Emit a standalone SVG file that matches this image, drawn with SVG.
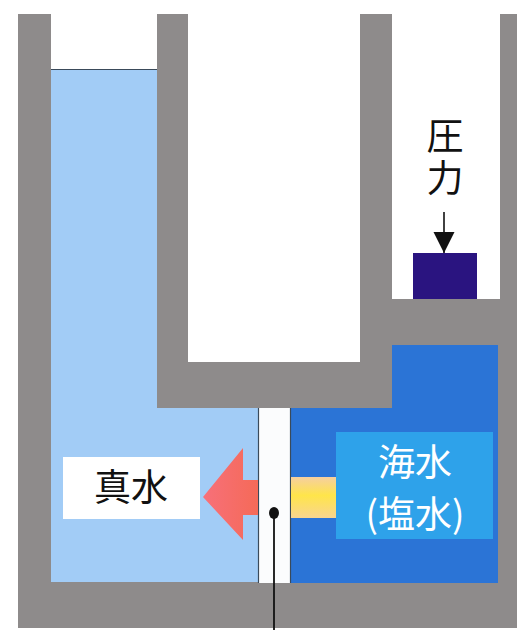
<svg xmlns="http://www.w3.org/2000/svg" width="522" height="630" viewBox="0 0 522 630">
  <defs>
    <style>
      .wall { fill: #8e8b8b; }
      .open { fill: #ffffff; }
      .fresh { fill: #a2ccf6; }
      .sea { fill: #2b74d6; }
      .edge { stroke: #3a4a5a; stroke-width: 1.2; fill: none; }
      .jp { font-family: "Noto Sans CJK JP", "Noto Sans CJK SC", sans-serif; font-size: 37px; }
      .vertical { writing-mode: vertical-rl; letter-spacing: 5px; }
    </style>
    <linearGradient id="flowRed" x1="0" y1="0" x2="1" y2="0">
      <stop offset="0" stop-color="#f7707a"/>
      <stop offset="1" stop-color="#f56a58"/>
    </linearGradient>
    <linearGradient id="flowYellow" x1="0" y1="0" x2="0" y2="1">
      <stop offset="0" stop-color="#f6cfa0"/>
      <stop offset="0.45" stop-color="#ffe54a"/>
      <stop offset="1" stop-color="#f8d590"/>
    </linearGradient>
    <marker id="head" markerWidth="22" markerHeight="22" refX="21" refY="11" orient="auto" markerUnits="userSpaceOnUse">
      <path d="M0,0.5 L21,11 L0,21.5 Z" fill="#111"/>
    </marker>
  </defs>

  <!-- vessel body -->
  <g id="vessel">
    <rect class="wall" x="18" y="14" width="499" height="614"/>
    <!-- open shafts -->
    <rect class="open" x="51" y="14" width="106" height="56"/>
    <rect class="open" x="188" y="14" width="172" height="348"/>
    <rect class="open" x="392" y="14" width="108" height="285"/>
  </g>

  <!-- fresh water side -->
  <g id="fresh-water">
    <path class="fresh" d="M51,70 H157 V408 H258 V582 H51 Z"/>
    <line class="edge" x1="51" y1="69.5" x2="157" y2="69.5"/>
  </g>

  <!-- sea water side -->
  <g id="sea-water">
    <path class="sea" d="M392,345 H498 V583 H291 V408 H392 Z"/>
  </g>

  <!-- semi-permeable membrane -->
  <g id="membrane">
    <rect x="258" y="408" width="33" height="175" fill="#fbfcfd"/>
    <line class="edge" x1="258.5" y1="408" x2="258.5" y2="583"/>
    <line class="edge" x1="290.5" y1="408" x2="290.5" y2="583"/>
  </g>

  <!-- piston -->
  <g id="piston">
    <rect x="413" y="253" width="64" height="46" fill="#2a1480"/>
  </g>

  <!-- pressure label, set vertically -->
  <g id="pressure-label">
    <text class="jp vertical" x="445" y="117" fill="#111">圧力</text>
  </g>

  <!-- flow arrows -->
  <g id="flow">
    <path d="M203,497 L243,448 L243,480 L258,480 L258,515 L243,515 L243,540 Z" fill="url(#flowRed)"/>
    <rect x="291" y="477" width="45" height="41" fill="url(#flowYellow)"/>
  </g>

  <!-- fresh water label -->
  <g id="fresh-label">
    <rect x="63" y="457" width="137" height="62" fill="#ffffff"/>
    <text class="jp" x="131" y="501" text-anchor="middle" fill="#111">真水</text>
  </g>

  <!-- sea water label -->
  <g id="sea-label">
    <rect x="336" y="432" width="157" height="107" fill="#2ea2ea"/>
    <text class="jp" x="415" y="476" text-anchor="middle" fill="#ffffff">海水</text>
    <text class="jp" x="415" y="528" text-anchor="middle" fill="#ffffff">(塩水)</text>
  </g>

  <!-- connectors -->
  <g id="connectors">
    <line x1="444" y1="212" x2="444" y2="253" stroke="#111" stroke-width="1.6" marker-end="url(#head)"/>
    <line x1="274" y1="513" x2="274" y2="630" stroke="#111" stroke-width="1.8"/>
    <ellipse cx="274" cy="513" rx="5" ry="6" fill="#111"/>
  </g>
</svg>
